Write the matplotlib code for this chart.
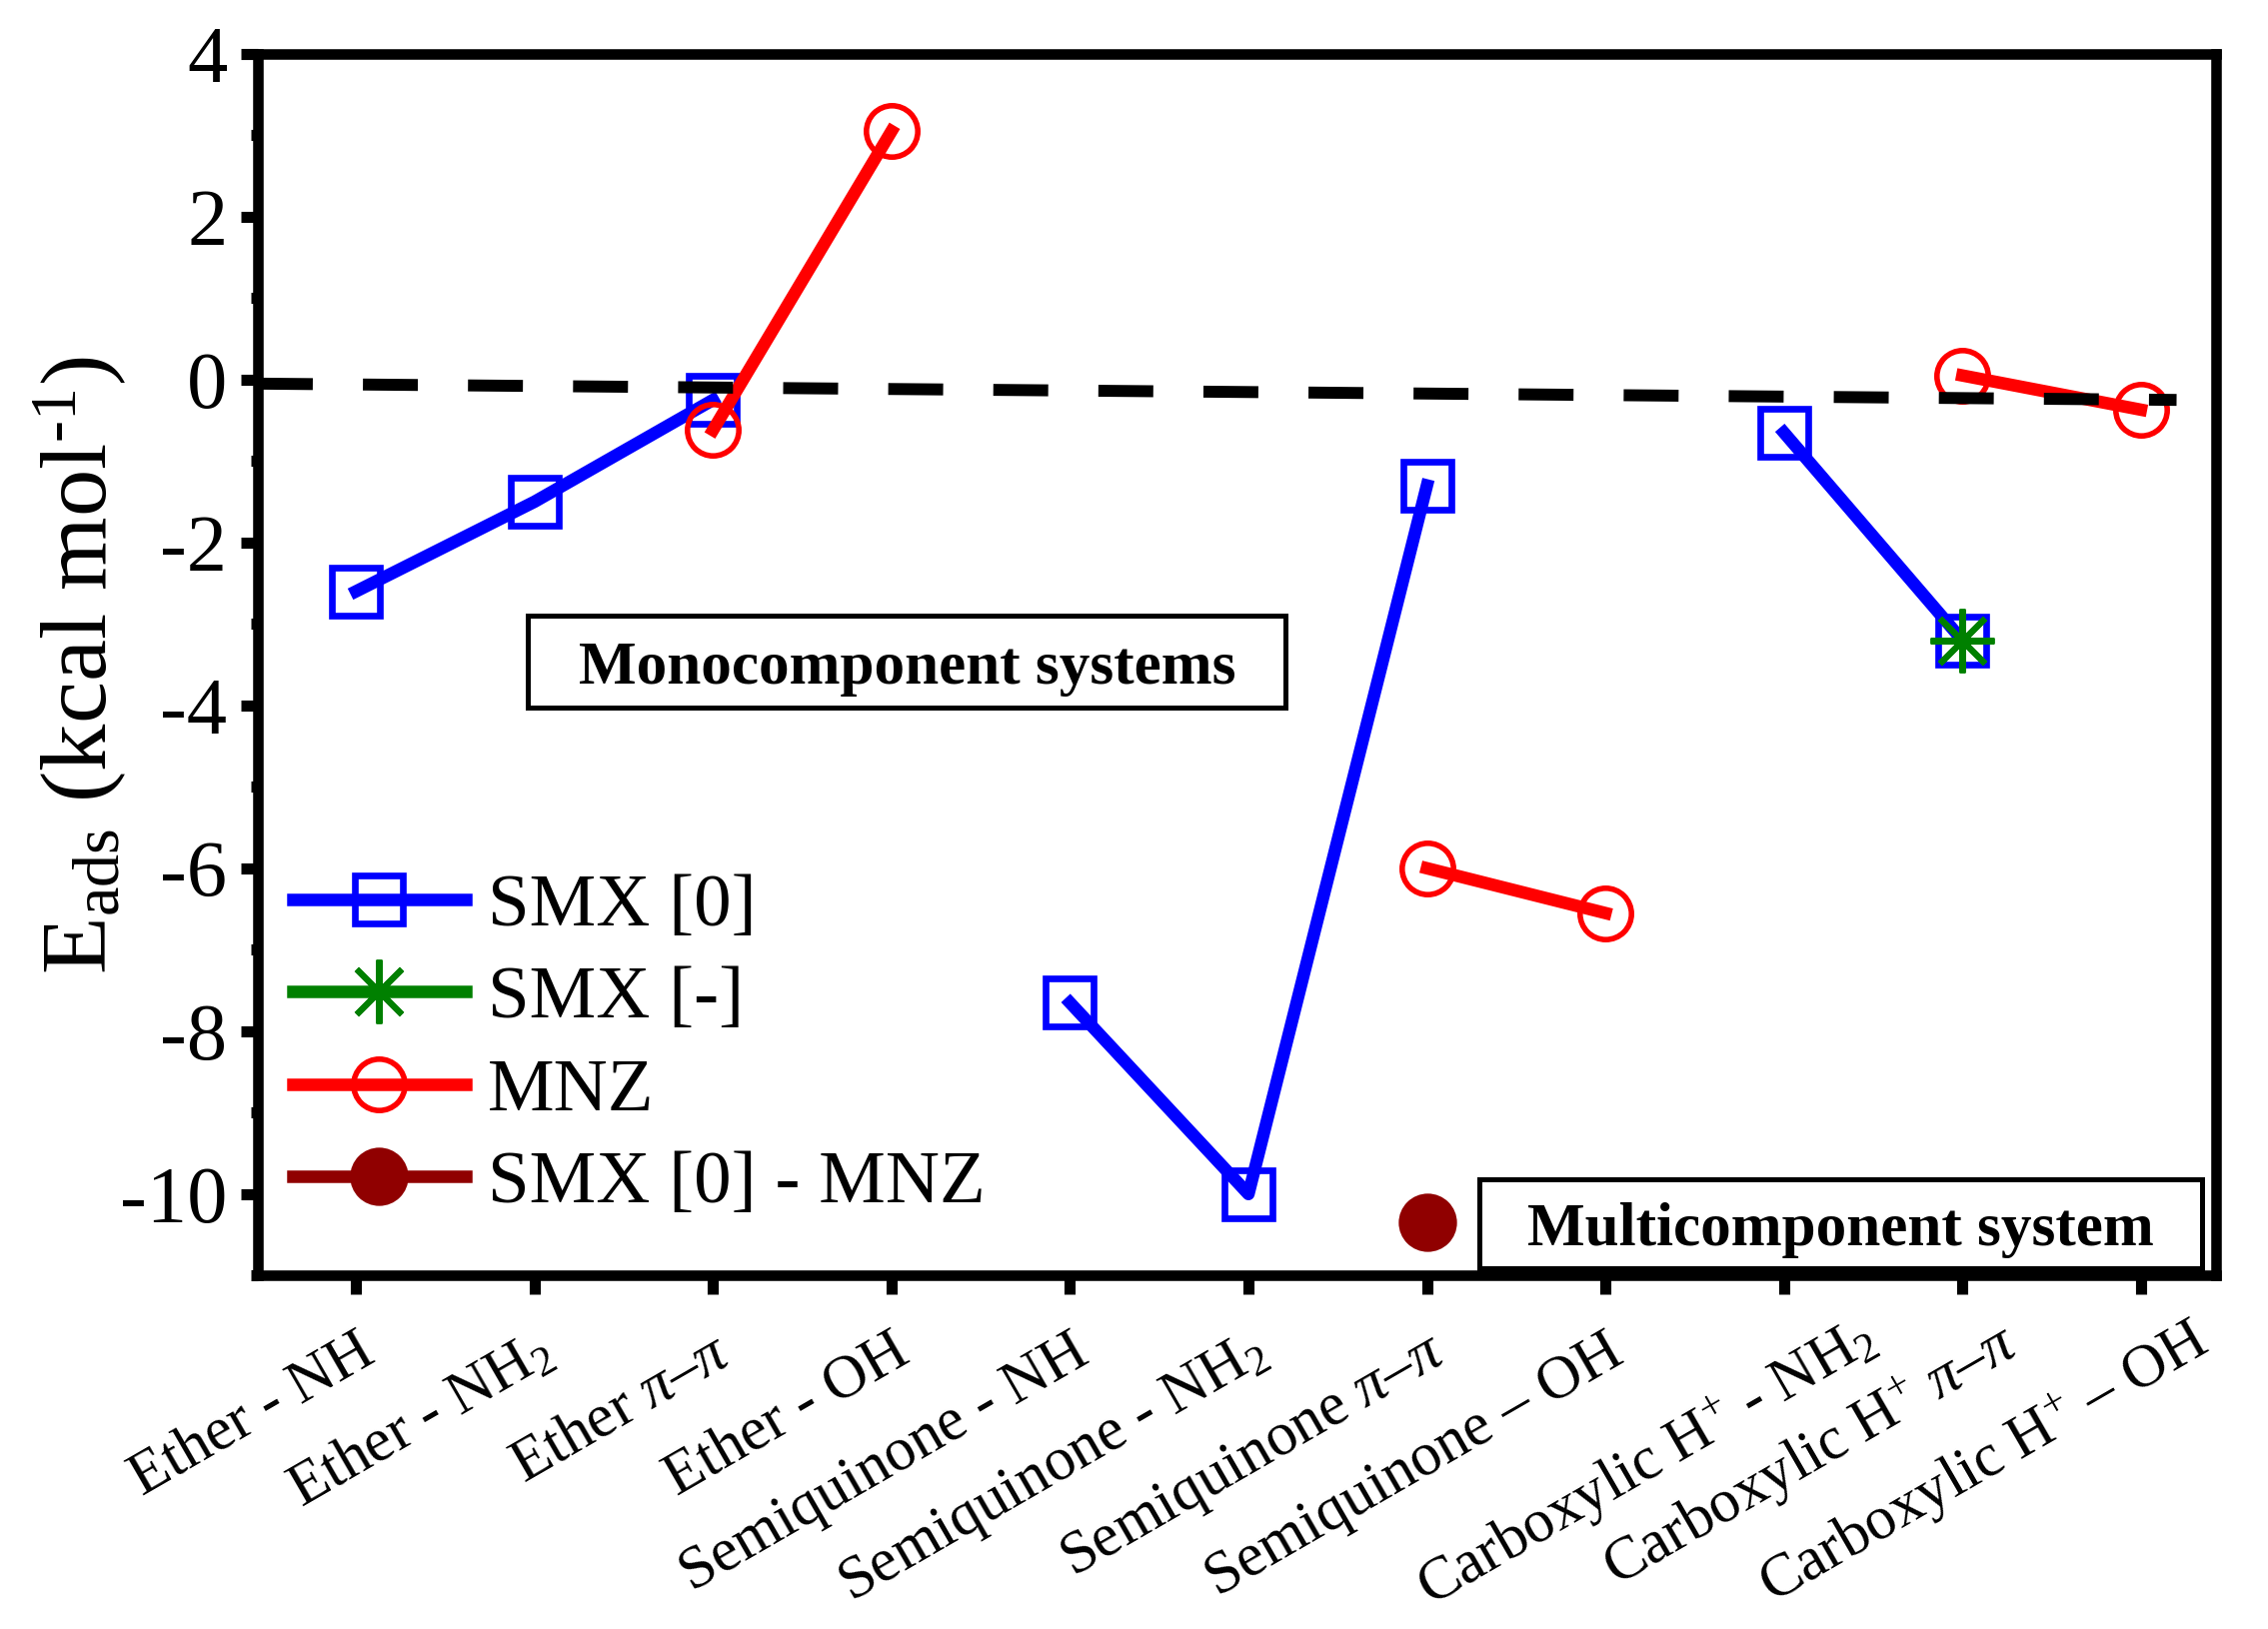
import numpy as np
import matplotlib
matplotlib.use("Agg")
import matplotlib.pyplot as plt
from matplotlib.patches import Rectangle
from matplotlib.ticker import MultipleLocator

plt.rcParams['font.family'] = ['Liberation Serif', 'DejaVu Serif']
plt.rcParams['mathtext.fontset'] = 'custom'
plt.rcParams['mathtext.rm'] = 'Liberation Serif'
plt.rcParams['mathtext.it'] = 'Liberation Serif:italic'
plt.rcParams['mathtext.default'] = 'regular'
plt.rcParams['axes.unicode_minus'] = False

# categories (x axis)
sites = ["Ether - NH", "Ether - NH$_2$", r"Ether $\mathit{\pi}$–$\mathit{\pi}$", "Ether - OH",
         "Semiquinone - NH", "Semiquinone - NH$_2$", r"Semiquinone $\mathit{\pi}$–$\mathit{\pi}$",
         "Semiquinone – OH", "Carboxylic H$^{+}$ - NH$_2$",
         r"Carboxylic H$^{+}$ $\mathit{\pi}$–$\mathit{\pi}$", "Carboxylic H$^{+}$ – OH"]
x = np.arange(1, len(sites) + 1)

nan = np.nan
smx0 = [-2.6, -1.5, -0.25, nan, -7.65, -10.0, -1.3, nan, -0.65, -3.2, nan]
smx_neg = [nan, nan, nan, nan, nan, nan, nan, nan, nan, -3.2, nan]
mnz = [nan, nan, -0.62, 3.05, nan, nan, -6.0, -6.55, nan, 0.05, -0.37]
smx0_mnz = [nan, nan, nan, nan, nan, nan, -10.35, nan, nan, nan, nan]

# zero reference (dashed)
ref_x = [0.45, 11.2]
ref_y = [-0.05, -0.25]

fig = plt.figure(figsize=(11.345, 8.15), dpi=200)
ax = fig.add_axes([0.1137, 0.217, 0.8633, 0.750])

ax.plot(x, smx0, color='#0000ff', lw=4.5, marker='s', ms=17, mfc='none', mew=2.4,
        label='SMX [0]', zorder=3)
ax.plot(x, smx_neg, color='#008000', lw=4.5, marker=(8, 2, 0), ms=23, mew=2.2,
        label='SMX [-]', zorder=4)
ax.plot(x, mnz, color='#ff0000', lw=4.5, marker='o', ms=18.5, mfc='none', mew=2,
        label='MNZ', zorder=4)
ax.plot(x, smx0_mnz, color='#900000', lw=4.5, marker='o', ms=21, mew=0,
        label='SMX [0] - MNZ', zorder=4)
ax.plot(ref_x, ref_y, color='black', lw=4.3, dashes=(4.6, 4.2), zorder=5)

ax.set_xlim(0.45, 11.42)
ax.set_ylim(-11, 4)
ax.set_xticks(x)
ax.set_xticklabels([])
# tick labels drawn by hand; the carboxylic ones sit a little further right in the original
label_shift = [(0, 0)] * 8 + [(26, 6), (13, 4), (17, 5)]
for xi, lab, (dx, dy) in zip(x, sites, label_shift):
    ax.annotate(lab, xy=(xi, 0), xycoords=ax.get_xaxis_transform(),
                xytext=(dx, -17.7 + dy), textcoords='offset points',
                rotation=30, ha='right', va='top', rotation_mode='anchor',
                fontsize=22, annotation_clip=False)

ax.yaxis.set_major_locator(MultipleLocator(2))
ax.yaxis.set_minor_locator(MultipleLocator(1))
ax.set_yticks([-10, -8, -6, -4, -2, 0, 2, 4])
ax.tick_params(axis='y', which='major', labelsize=29, length=6, width=4, pad=5)
ax.tick_params(axis='y', which='minor', length=2.5, width=4)
ax.tick_params(axis='x', which='major', length=6.7, width=4)
for s in ax.spines.values():
    s.set_linewidth(3.8)

ax.set_ylabel('E$_{ads}$ (kcal mol$^{\u20101}$)', fontsize=34)
ax.yaxis.set_label_coords(-0.066, 0.5)

leg = ax.legend(loc='center left', bbox_to_anchor=(0.018, 0.188), frameon=False,
                fontsize=27, handlelength=2.3, handletextpad=0.3, labelspacing=0.32,
                borderpad=0, borderaxespad=0)

# annotation boxes
ax.add_patch(Rectangle((0.138, 0.465), 0.387, 0.075, transform=ax.transAxes,
                       fill=False, ec='black', lw=1.8, zorder=6))
ax.text(0.3315, 0.497, 'Monocomponent systems', transform=ax.transAxes,
        ha='center', va='center', fontsize=22, fontweight='bold', zorder=7)
ax.add_patch(Rectangle((0.624, 0.006), 0.369, 0.073, transform=ax.transAxes,
                       fc='white', ec='black', lw=1.8, zorder=6))
ax.text(0.8085, 0.037, 'Multicomponent system', transform=ax.transAxes,
        ha='center', va='center', fontsize=22, fontweight='bold', zorder=7)

fig.savefig('out.png', dpi=200)
